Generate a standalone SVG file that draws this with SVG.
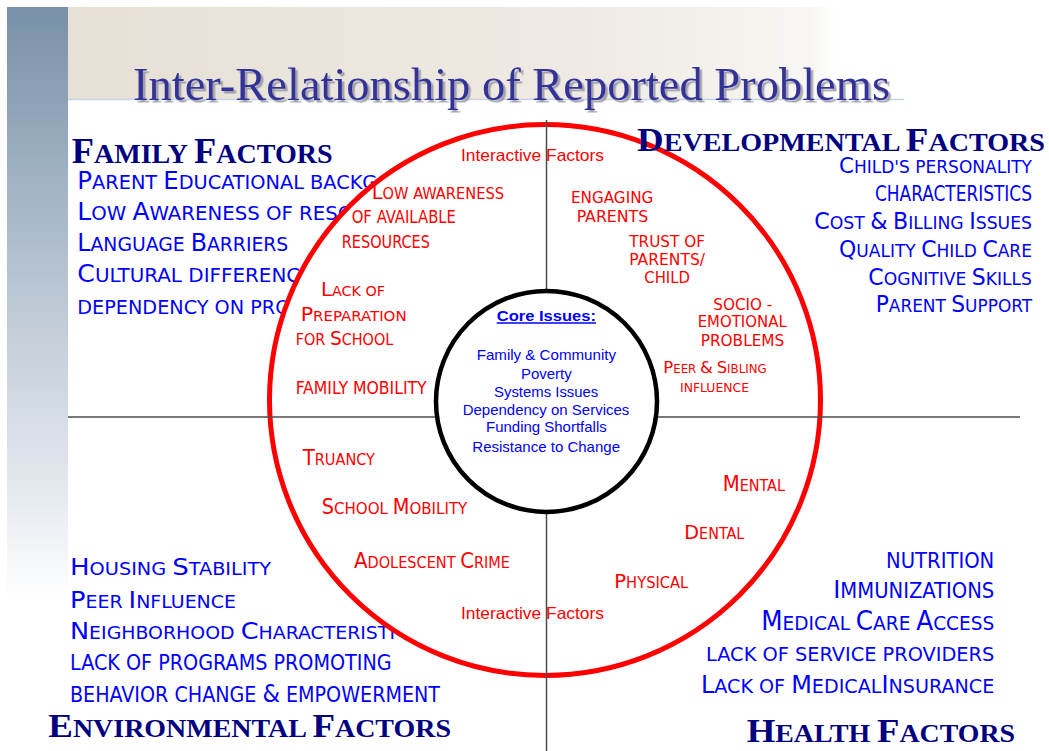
<svg xmlns="http://www.w3.org/2000/svg" width="1049" height="751" viewBox="0 0 1049 751">
  <defs>
    <linearGradient id="barFade" x1="0" y1="0" x2="0" y2="1">
      <stop offset="0" stop-color="#7890a8"/>
      <stop offset="0.3" stop-color="#a2b3c5"/>
      <stop offset="0.55" stop-color="#c3ced9"/>
      <stop offset="0.8" stop-color="#e3e8ee"/>
      <stop offset="1" stop-color="#ffffff"/>
    </linearGradient>
    <linearGradient id="bannerFade" x1="0" y1="0" x2="1" y2="0">
      <stop offset="0" stop-color="#e6e0d5"/>
      <stop offset="0.7" stop-color="#efebe4"/>
      <stop offset="0.97" stop-color="#f8f6f3"/>
      <stop offset="1" stop-color="#ffffff"/>
    </linearGradient>
    <filter id="titleShadow" x="-5%" y="-20%" width="110%" height="150%">
      <feDropShadow dx="2.5" dy="2.5" stdDeviation="0.6" flood-color="#8f8f9f" flood-opacity="0.8"/>
    </filter>
    <style>
      .hd { font-family: "Liberation Serif", "Times New Roman", serif; font-weight: bold; fill: #000080; }
      .bl { font-family: "DejaVu Sans Condensed", "DejaVu Sans", sans-serif; font-stretch: condensed; fill: #0000ff; }
      .rd { font-family: "DejaVu Sans Condensed", "DejaVu Sans", sans-serif; font-stretch: condensed; fill: #ff0000; }
      .ar { font-family: "Liberation Sans", Arial, sans-serif; }
      .core { font-family: "Liberation Sans", Arial, sans-serif; fill: #0000ff; font-size: 15px; }
      .div { stroke: #4d4d4d; stroke-width: 1.5; fill: none; }
    </style>
  </defs>

  <!-- page background -->
  <rect x="0" y="0" width="1049" height="751" fill="#ffffff"/>
  <rect x="7" y="7" width="61" height="595" fill="url(#barFade)"/>
  <rect x="68" y="7" width="767" height="93" fill="url(#bannerFade)"/>
  <line x1="68" y1="99.5" x2="904" y2="99.5" stroke="#c6d4e4" stroke-width="1.5"/>

  <!-- title -->
  <g id="title">
    <text x="133" y="99.5" font-family="'Liberation Serif', 'Times New Roman', serif" font-size="46.5" fill="#333399" filter="url(#titleShadow)" textLength="757" lengthAdjust="spacingAndGlyphs">Inter-Relationship of Reported Problems</text>
  </g>

  <!-- family factor list (partly covered by the ring) -->
  <g id="family-list" class="bl">
    <text x="77.3" y="189.3" font-size="19" textLength="300" lengthAdjust="spacingAndGlyphs"><tspan font-size="24">P</tspan>ARENT <tspan font-size="24">E</tspan>DUCATIONAL BACKG</text>
    <text x="77.3" y="220" font-size="19" textLength="276" lengthAdjust="spacingAndGlyphs"><tspan font-size="24">L</tspan>OW <tspan font-size="24">A</tspan>WARENESS OF RESO</text>
    <text x="77.3" y="251" font-size="19" textLength="211" lengthAdjust="spacingAndGlyphs"><tspan font-size="24">L</tspan>ANGUAGE <tspan font-size="24">B</tspan>ARRIERS</text>
    <text x="77.3" y="282" font-size="19" textLength="223" lengthAdjust="spacingAndGlyphs"><tspan font-size="24">C</tspan>ULTURAL DIFFERENC</text>
    <text x="77.3" y="314" font-size="20" textLength="213" lengthAdjust="spacingAndGlyphs">DEPENDENCY ON PRO</text>
  </g>

  <!-- environmental factor list (partly covered by the ring) -->
  <g id="environmental-list" class="bl">
    <text x="70" y="575" font-size="17" textLength="201" lengthAdjust="spacingAndGlyphs"><tspan font-size="23">H</tspan>OUSING <tspan font-size="23">S</tspan>TABILITY</text>
    <text x="70" y="607.7" font-size="17" textLength="166" lengthAdjust="spacingAndGlyphs"><tspan font-size="23">P</tspan>EER <tspan font-size="23">I</tspan>NFLUENCE</text>
    <text x="70" y="639.3" font-size="17" textLength="325" lengthAdjust="spacingAndGlyphs"><tspan font-size="23">N</tspan>EIGHBORHOOD <tspan font-size="23">C</tspan>HARACTERISTI</text>
    <text x="70" y="670" font-size="20.5" textLength="321.7" lengthAdjust="spacingAndGlyphs">LACK OF PROGRAMS PROMOTING</text>
    <text x="70" y="701.7" font-size="20.5" textLength="370" lengthAdjust="spacingAndGlyphs">BEHAVIOR CHANGE <tspan font-size="24">&amp;</tspan> EMPOWERMENT</text>
  </g>

  <!-- outer ring of interactive factors -->
  <g id="interactive-ring">
    <circle cx="545" cy="400" r="275.5" fill="#ffffff" stroke="#ff0000" stroke-width="5"/>
  </g>

  <!-- quadrant dividers -->
  <g id="connectors">
    <line class="div" x1="546.5" y1="120" x2="546.5" y2="751"/>
    <line class="div" x1="68" y1="417" x2="1020" y2="417"/>
  </g>

  <!-- core issues hub -->
  <g id="core-issues">
    <circle cx="546.5" cy="401.4" r="110.5" fill="#ffffff" stroke="#000000" stroke-width="4.5"/>
    <text class="core" x="496.7" y="320.7" font-size="16.5" font-weight="bold" textLength="99.3" lengthAdjust="spacingAndGlyphs">Core Issues:</text>
    <line x1="496.7" y1="323" x2="596" y2="323" stroke="#0000ff" stroke-width="1.3"/>
    <text class="core" x="476.7" y="360" textLength="139.3" lengthAdjust="spacingAndGlyphs">Family &amp; Community</text>
    <text class="core" x="521" y="379" textLength="50.7" lengthAdjust="spacingAndGlyphs">Poverty</text>
    <text class="core" x="494" y="396.7" textLength="104.3" lengthAdjust="spacingAndGlyphs">Systems Issues</text>
    <text class="core" x="462.7" y="415" textLength="166.6" lengthAdjust="spacingAndGlyphs">Dependency on Services</text>
    <text class="core" x="486" y="432.3" textLength="120.7" lengthAdjust="spacingAndGlyphs">Funding Shortfalls</text>
    <text class="core" x="472.3" y="451.7" textLength="147.7" lengthAdjust="spacingAndGlyphs">Resistance to Change</text>
  </g>

  <!-- ring labels -->
  <g id="ring-labels" class="rd">
    <text class="ar" x="461" y="160.7" font-size="16.5" textLength="143" lengthAdjust="spacingAndGlyphs">Interactive Factors</text>
    <text class="ar" x="461" y="619.3" font-size="16.5" textLength="143" lengthAdjust="spacingAndGlyphs">Interactive Factors</text>

    <text x="371.7" y="199.3" font-size="15" textLength="132.3" lengthAdjust="spacingAndGlyphs"><tspan font-size="20">L</tspan>OW AWARENESS</text>
    <text x="351.7" y="223.3" font-size="17" textLength="104.3" lengthAdjust="spacingAndGlyphs">OF AVAILABLE</text>
    <text x="341.7" y="248.3" font-size="17" textLength="88.3" lengthAdjust="spacingAndGlyphs">RESOURCES</text>

    <text x="321" y="296" font-size="14.6" textLength="64" lengthAdjust="spacingAndGlyphs"><tspan font-size="20">L</tspan>ACK OF</text>
    <text x="300.7" y="321" font-size="14.6" textLength="106" lengthAdjust="spacingAndGlyphs"><tspan font-size="20">P</tspan>REPARATION</text>
    <text x="295.7" y="345" font-size="15.5" textLength="97.6" lengthAdjust="spacingAndGlyphs">FOR <tspan font-size="20">S</tspan>CHOOL</text>
    <text x="295.7" y="394" font-size="17" textLength="131" lengthAdjust="spacingAndGlyphs">FAMILY MOBILITY</text>

    <text x="571" y="203.3" font-size="16" textLength="82.3" lengthAdjust="spacingAndGlyphs">ENGAGING</text>
    <text x="576.7" y="221.7" font-size="16" textLength="71.6" lengthAdjust="spacingAndGlyphs">PARENTS</text>
    <text x="629.3" y="246.7" font-size="16" textLength="75.7" lengthAdjust="spacingAndGlyphs">TRUST OF</text>
    <text x="629.3" y="265" font-size="16" textLength="75.7" lengthAdjust="spacingAndGlyphs">PARENTS/</text>
    <text x="644.3" y="283.3" font-size="16" textLength="45.7" lengthAdjust="spacingAndGlyphs">CHILD</text>
    <text x="713.3" y="310" font-size="16" textLength="59" lengthAdjust="spacingAndGlyphs">SOCIO -</text>
    <text x="697.7" y="327.3" font-size="16" textLength="89" lengthAdjust="spacingAndGlyphs">EMOTIONAL</text>
    <text x="700.7" y="346" font-size="16" textLength="83.6" lengthAdjust="spacingAndGlyphs">PROBLEMS</text>
    <text x="663.3" y="373.3" font-size="11.5" textLength="103.4" lengthAdjust="spacingAndGlyphs"><tspan font-size="16">P</tspan>EER <tspan font-size="16">&amp;</tspan> <tspan font-size="16">S</tspan>IBLING</text>
    <text x="680" y="392.3" font-size="12.5" textLength="69" lengthAdjust="spacingAndGlyphs">INFLUENCE</text>

    <text x="302.7" y="465" font-size="15" textLength="72.3" lengthAdjust="spacingAndGlyphs"><tspan font-size="20.5">T</tspan>RUANCY</text>
    <text x="321.7" y="514.3" font-size="16" textLength="145.6" lengthAdjust="spacingAndGlyphs"><tspan font-size="20.5">S</tspan>CHOOL <tspan font-size="20.5">M</tspan>OBILITY</text>
    <text x="354" y="567.7" font-size="15" textLength="156" lengthAdjust="spacingAndGlyphs"><tspan font-size="20.5">A</tspan>DOLESCENT <tspan font-size="20.5">C</tspan>RIME</text>

    <text x="722.7" y="490.7" font-size="15" textLength="62.3" lengthAdjust="spacingAndGlyphs"><tspan font-size="20.5">M</tspan>ENTAL</text>
    <text x="684.3" y="539.3" font-size="15" textLength="60" lengthAdjust="spacingAndGlyphs"><tspan font-size="20">D</tspan>ENTAL</text>
    <text x="614.3" y="588.3" font-size="15" textLength="74" lengthAdjust="spacingAndGlyphs"><tspan font-size="20">P</tspan>HYSICAL</text>
  </g>

  <!-- developmental factors -->
  <g id="developmental-factors">
    <text class="hd" x="637" y="150.7" font-size="25.5" textLength="408" lengthAdjust="spacingAndGlyphs"><tspan font-size="33.5">D</tspan>EVELOPMENTAL <tspan font-size="33.5">F</tspan>ACTORS</text>
    <g class="bl">
      <text x="839" y="173.3" font-size="17.5" textLength="193" lengthAdjust="spacingAndGlyphs"><tspan font-size="22">C</tspan>HILD'S PERSONALITY</text>
      <text x="875" y="201" font-size="20.5" textLength="157" lengthAdjust="spacingAndGlyphs">CHARACTERISTICS</text>
      <text x="814.3" y="229.3" font-size="17.5" textLength="217.7" lengthAdjust="spacingAndGlyphs"><tspan font-size="22.5">C</tspan>OST <tspan font-size="22.5">&amp;</tspan> <tspan font-size="22.5">B</tspan>ILLING <tspan font-size="22.5">I</tspan>SSUES</text>
      <text x="839" y="256.7" font-size="17.5" textLength="193" lengthAdjust="spacingAndGlyphs"><tspan font-size="22.5">Q</tspan>UALITY <tspan font-size="22.5">C</tspan>HILD <tspan font-size="22.5">C</tspan>ARE</text>
      <text x="868.3" y="285" font-size="17.5" textLength="163.7" lengthAdjust="spacingAndGlyphs"><tspan font-size="22.5">C</tspan>OGNITIVE <tspan font-size="22.5">S</tspan>KILLS</text>
      <text x="875.7" y="312.3" font-size="17.5" textLength="156.3" lengthAdjust="spacingAndGlyphs"><tspan font-size="22.5">P</tspan>ARENT <tspan font-size="22.5">S</tspan>UPPORT</text>
    </g>
  </g>

  <!-- family factors heading -->
  <g id="family-factors">
    <text class="hd" x="71.7" y="162.7" font-size="27" textLength="261" lengthAdjust="spacingAndGlyphs"><tspan font-size="35">F</tspan>AMILY <tspan font-size="35">F</tspan>ACTORS</text>
  </g>

  <!-- environmental factors heading -->
  <g id="environmental-factors">
    <text class="hd" x="48.3" y="736.7" font-size="25" textLength="402.7" lengthAdjust="spacingAndGlyphs"><tspan font-size="33">E</tspan>NVIRONMENTAL <tspan font-size="33">F</tspan>ACTORS</text>
  </g>

  <!-- health factors -->
  <g id="health-factors">
    <g class="bl">
      <text x="886" y="567.7" font-size="20.5" textLength="108.3" lengthAdjust="spacingAndGlyphs">NUTRITION</text>
      <text x="833.3" y="598.3" font-size="20.5" textLength="161" lengthAdjust="spacingAndGlyphs"><tspan font-size="25">I</tspan>MMUNIZATIONS</text>
      <text x="761.3" y="630" font-size="19.5" textLength="233" lengthAdjust="spacingAndGlyphs"><tspan font-size="26">M</tspan>EDICAL <tspan font-size="26">C</tspan>ARE <tspan font-size="26">A</tspan>CCESS</text>
      <text x="706" y="660.7" font-size="20" textLength="288.3" lengthAdjust="spacingAndGlyphs">LACK OF SERVICE PROVIDERS</text>
      <text x="701" y="693.3" font-size="20" textLength="293.3" lengthAdjust="spacingAndGlyphs"><tspan font-size="25">L</tspan>ACK OF <tspan font-size="25">M</tspan>EDICAL<tspan font-size="25">I</tspan>NSURANCE</text>
    </g>
    <text class="hd" x="746.7" y="741.7" font-size="25" textLength="268.3" lengthAdjust="spacingAndGlyphs"><tspan font-size="33">H</tspan>EALTH <tspan font-size="33">F</tspan>ACTORS</text>
  </g>
</svg>
